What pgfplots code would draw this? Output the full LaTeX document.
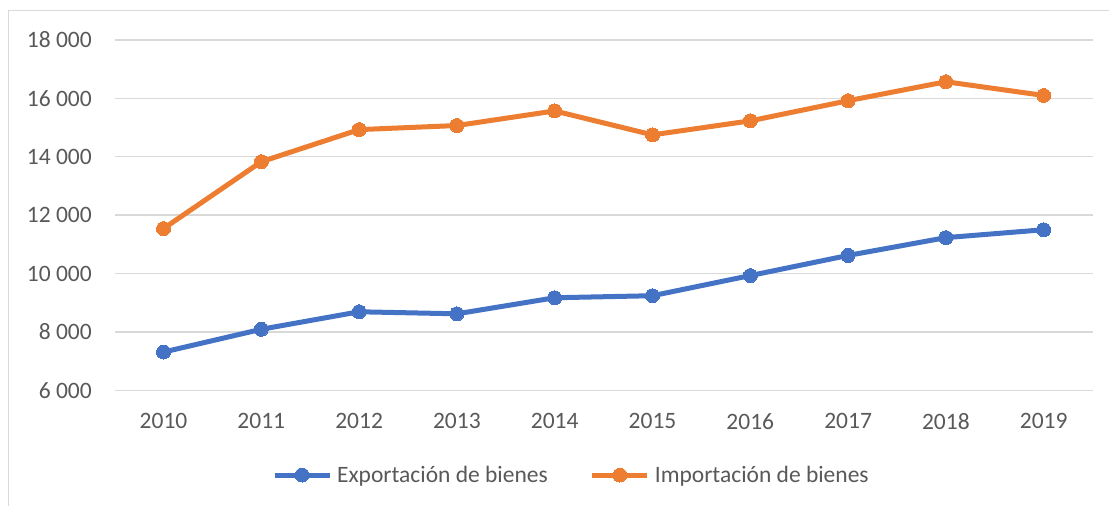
\documentclass[border=0pt]{standalone}
\usepackage{fontspec}
\setmainfont{Carlito}
\usepackage{pgfplots}
\pgfplotsset{compat=1.18}
\definecolor{cblue}{HTML}{4472C4}
\definecolor{corange}{HTML}{ED7D31}
\definecolor{gridgray}{HTML}{D9D9D9}
\definecolor{textgray}{HTML}{595959}
\begin{document}
\begin{tikzpicture}
\useasboundingbox (0pt,0pt) rectangle (1109pt,506pt);
\fill[white] (0pt,0pt) rectangle (1109pt,506pt);
\draw[gridgray, line width=1.3pt] (8.6pt,-2pt) -- (8.6pt,495.3pt) -- (1112pt,495.3pt);
\begin{axis}[
  at={(114.6pt,115.7pt)}, anchor=south west,
  width=978pt, height=350.3pt, scale only axis,
  xmin=-0.5, xmax=9.5, ymin=6000, ymax=18000,
  scaled y ticks=false,
  xtick={0,...,9},
  xticklabels={2010,2011,2012,2013,2014,2015,2016,2017,2018,2019},
  ytick={6000,8000,10000,12000,14000,16000,18000},
  yticklabels={6 000,8 000,10 000,12 000,14 000,16 000,18 000},
  /pgf/number format/assume math mode=true,
  axis line style={draw=none},
  major tick length=0pt,
  ymajorgrids,
  major grid style={gridgray, line width=1.3pt},
  tick label style={font=\fontsize{23.5}{28}\selectfont, text=textgray},
  xticklabel style={inner sep=0pt, anchor=north, yshift=-23pt},
  yticklabel style={inner sep=0pt, anchor=east, xshift=-22.6pt},
  legend columns=2,
  legend style={at={(0.161,-0.2418)}, anchor=west, draw=none, fill=none,
    inner sep=0pt, outer sep=0pt,
    font=\fontsize{23.5}{28}\selectfont, text=textgray,
    nodes={inner sep=0pt},
    /tikz/every odd column/.append style={column sep=5pt},
    /tikz/every even column/.append style={column sep=42pt}},
  legend image code/.code={
    \draw[#1, mark repeat=2, mark phase=2] plot coordinates {(0pt,0pt) (27.5pt,0pt) (55pt,0pt)};
  },
]
\addplot[cblue, line width=5pt, mark=*, mark size=7pt, mark options={solid, line width=0pt}]
  coordinates {(0,7310) (1,8090) (2,8690) (3,8620) (4,9170) (5,9240) (6,9930) (7,10620) (8,11230) (9,11500)};
\addlegendentry{Exportación de bienes}
\addplot[corange, line width=5pt, mark=*, mark size=7pt, mark options={solid, line width=0pt}]
  coordinates {(0,11540) (1,13830) (2,14930) (3,15070) (4,15570) (5,14750) (6,15230) (7,15920) (8,16570) (9,16100)};
\addlegendentry{Importación de bienes}
\end{axis}
\end{tikzpicture}
\end{document}
